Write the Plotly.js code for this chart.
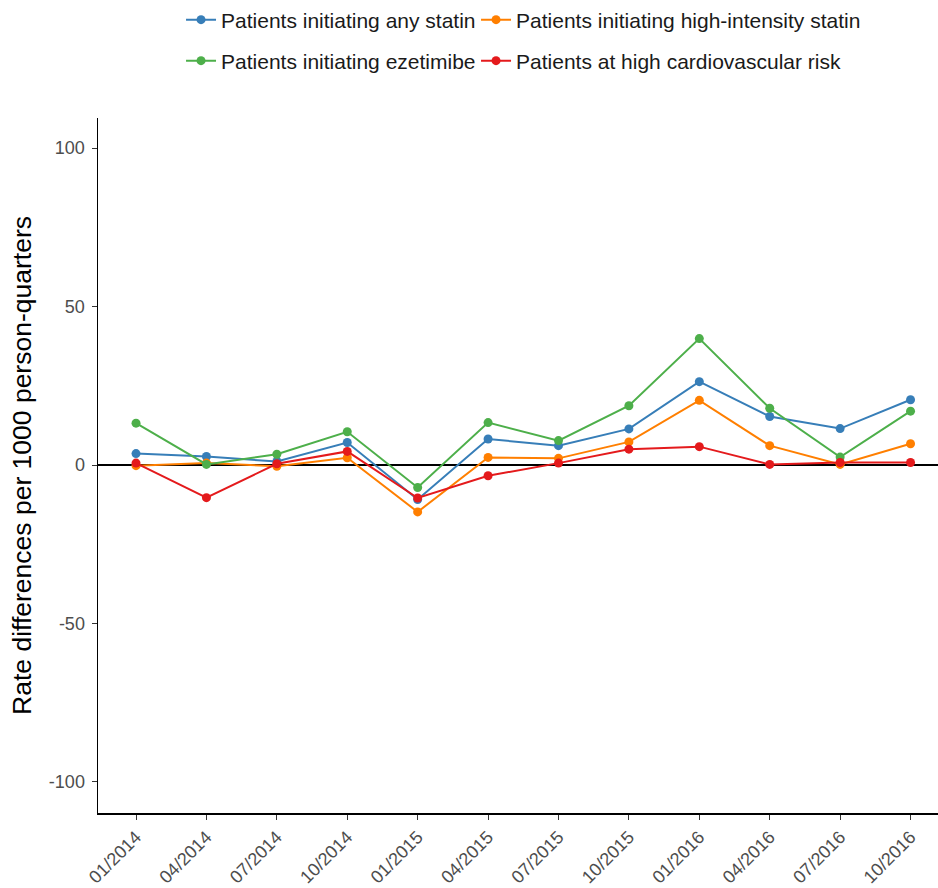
<!DOCTYPE html>
<html>
<head>
<meta charset="utf-8">
<script src="https://cdn.plot.ly/plotly-3.0.1.min.js"></script>
<style>html,body{margin:0;padding:0;background:#fff;}#chart{width:938px;height:888px;}</style>
</head>
<body>
<div id="chart"></div>
<script>
var quarters = ["01/2014","04/2014","07/2014","10/2014","01/2015","04/2015","07/2015","10/2015","01/2016","04/2016","07/2016","10/2016"];
var anyStatin = [3.6, 2.7, 1.1, 7.1, -10.9, 8.2, 6.1, 11.4, 26.3, 15.3, 11.5, 20.6];
var highIntensity = [-0.2, 0.6, -0.4, 2.3, -14.8, 2.4, 2.1, 7.3, 20.4, 6.1, 0.2, 6.7];
var ezetimibe = [13.2, 0.2, 3.4, 10.5, -7.1, 13.4, 7.7, 18.7, 39.9, 17.9, 2.5, 17.0];
var highRisk = [0.6, -10.3, 0.4, 4.3, -10.4, -3.4, 0.6, 5.0, 5.8, 0.2, 0.8, 0.8];
var yTickVals = [-100, -50, 0, 50, 100];
var yTickText = ["-100", "-50", "0", "50", "100"];

function mk(name, y, color, legend, lw) {
  return {
    x: quarters, y: y, name: name, type: "scatter", mode: "lines+markers",
    line: {color: color, width: 2},
    marker: {color: color, size: 9},
    legend: legend, legendwidth: lw
  };
}
var traces = [
  mk("Patients initiating any statin", anyStatin, "#377EB8", "legend", 250),
  mk("Patients initiating high-intensity statin", highIntensity, "#FF7F00", "legend", 380),
  mk("Patients initiating ezetimibe", ezetimibe, "#4DAF4A", "legend2", 250),
  mk("Patients at high cardiovascular risk", highRisk, "#E41A1C", "legend2", 380)
];
var legFont = {family: "Liberation Sans, Arial, sans-serif", size: 21, color: "#1a1a1a"};
var layout = {
  width: 938, height: 888,
  margin: {l: 98, r: 0, t: 118, b: 75},
  paper_bgcolor: "#fff", plot_bgcolor: "#fff",
  font: {family: "Liberation Sans, Arial, sans-serif"},
  showlegend: true,
  legend: {orientation: "h", xref: "container", yref: "container", x: 0.193, y: 1 - 20/888,
           xanchor: "left", yanchor: "middle", font: legFont,
           bgcolor: "rgba(0,0,0,0)"},
  legend2: {orientation: "h", xref: "container", yref: "container", x: 0.193, y: 1 - 61/888,
           xanchor: "left", yanchor: "middle", font: legFont,
           bgcolor: "rgba(0,0,0,0)"},
  xaxis: {
    type: "category", range: [-0.54, 11.39],
    showgrid: false, zeroline: false,
    showline: true, linecolor: "#000", linewidth: 1.5,
    ticks: "outside", ticklen: 5, tickcolor: "#333", tickwidth: 1,
    tickangle: -45, tickfont: {size: 18, color: "#4d4d4d"}
  },
  yaxis: {
    range: [-109.8, 109.5],
    showgrid: false,
    zeroline: true, zerolinecolor: "#000", zerolinewidth: 1.5,
    showline: true, linecolor: "#000", linewidth: 1.5,
    ticks: "outside", ticklen: 5, tickcolor: "#333", tickwidth: 1,
    ticklabelstandoff: 3,
    tickvals: yTickVals, ticktext: yTickText,
    tickfont: {size: 18, color: "#4d4d4d"},
    title: {text: "Rate differences per 1000 person-quarters", font: {size: 26.5, color: "#000"}, standoff: 9}
  }
};
Plotly.newPlot("chart", traces, layout, {displayModeBar: false, staticPlot: true});
</script>
</body>
</html>
